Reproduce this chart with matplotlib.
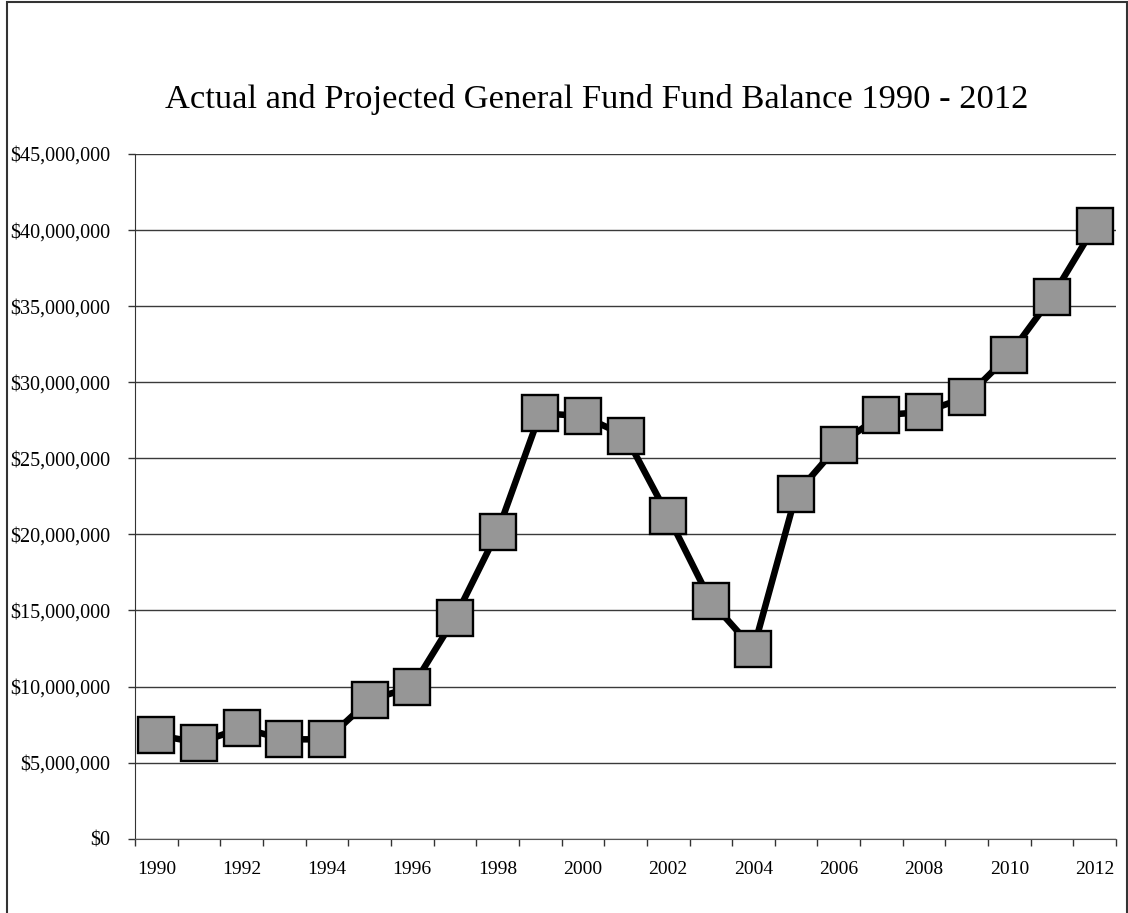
import numpy as np
import matplotlib
matplotlib.use("Agg")
import matplotlib.pyplot as plt
from matplotlib.patches import Rectangle
from matplotlib.ticker import FuncFormatter, FixedLocator

# fund balance by year, dollars
years = list(range(1990, 2013))
balance = [6810000, 6310000, 7270000, 6530000, 6530000, 9120000, 9970000,
           14520000, 20170000, 27960000, 27780000, 26480000, 21200000,
           15600000, 12470000, 22660000, 25890000, 27840000, 28040000,
           29030000, 31810000, 35620000, 40260000]
y_ticks = list(range(0, 45000001, 5000000))
title = "Actual and Projected General Fund Fund Balance 1990 - 2012"

plt.rcParams['font.family'] = ['Liberation Serif', 'DejaVu Serif']

fig = plt.figure(figsize=(11.28, 9.13), dpi=100)
ax = fig.add_axes([0.1197, 0.0814, 0.8697, 0.7499])

# outer frame round the chart (bottom edge runs off the page)
fig.patches.append(Rectangle((7 / 1128, -0.1), 1120 / 1128, 1.1 - 2 / 913,
                             transform=fig.transFigure, fill=False,
                             edgecolor='#333333', linewidth=1.5))

x = np.arange(len(years))
ax.plot(x, balance, color='black', linewidth=4.7, solid_capstyle='butt',
        marker='s', markersize=25.5, markerfacecolor='#969696',
        markeredgecolor='black', markeredgewidth=1.7, zorder=3)

ax.set_xlim(-0.5, len(years) - 0.5)
ax.set_ylim(0, 45000000)

ax.yaxis.set_major_locator(FixedLocator(y_ticks))
ax.yaxis.set_major_formatter(FuncFormatter(lambda v, p: "${:,.0f}".format(v)))
ax.grid(axis='y', color='#3a3a3a', linewidth=1.0)
ax.set_axisbelow(True)

# labels every other year, tick marks between categories
ax.set_xticks(x[::2])
ax.set_xticklabels([str(years[i]) for i in x[::2]])
ax.set_xticks(np.arange(-0.5, len(years)), minor=True)
ax.tick_params(axis='x', which='major', length=0, pad=16, labelsize=14)
ax.tick_params(axis='x', which='minor', length=5, width=1.0, color='#333333')
ax.tick_params(axis='y', length=5, width=1.0, color='#333333', pad=13,
               labelsize=14.5)

for side in ['top', 'right']:
    ax.spines[side].set_visible(False)
ax.spines['left'].set_color('#333333')
ax.spines['bottom'].set_color('#555555')

fig.text(0.529, 0.891, title, ha='center', va='center', fontsize=24.8)

fig.savefig("out.png", dpi=100)
